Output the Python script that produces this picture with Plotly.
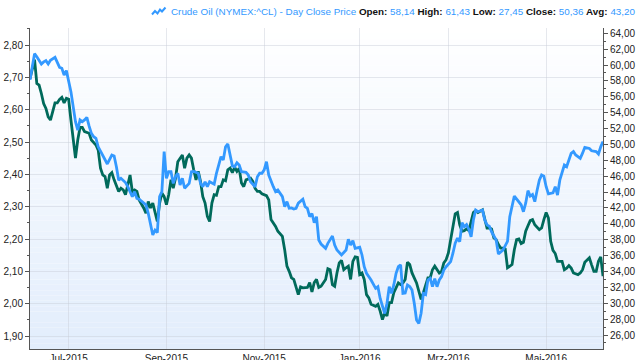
import plotly.graph_objects as go
import pandas as pd

# ---------------- data ----------------
holidays = ["2015-07-03", "2015-09-07", "2015-11-26", "2015-12-25", "2016-01-01",
            "2016-01-18", "2016-02-15", "2016-03-25", "2016-05-30"]

crude_dates = [
    "2015-06-08", "2015-06-10", "2015-06-11", "2015-06-15", "2015-06-16", "2015-06-17", "2015-06-18",
    "2015-06-19", "2015-06-23", "2015-06-24", "2015-06-25", "2015-06-26", "2015-06-29", "2015-06-30",
    "2015-07-01", "2015-07-02", "2015-07-07", "2015-07-08", "2015-07-09", "2015-07-10", "2015-07-13",
    "2015-07-14", "2015-07-15", "2015-07-16", "2015-07-17", "2015-07-20", "2015-07-21", "2015-07-23",
    "2015-07-27", "2015-07-29", "2015-07-30", "2015-07-31", "2015-08-03", "2015-08-04", "2015-08-06",
    "2015-08-07", "2015-08-11", "2015-08-12", "2015-08-13", "2015-08-14", "2015-08-18", "2015-08-19",
    "2015-08-20", "2015-08-24", "2015-08-25", "2015-08-26", "2015-08-27", "2015-08-28", "2015-08-31",
    "2015-09-01", "2015-09-02", "2015-09-03", "2015-09-04", "2015-09-08", "2015-09-09", "2015-09-10",
    "2015-09-11", "2015-09-14", "2015-09-16", "2015-09-17", "2015-09-18", "2015-09-22", "2015-09-23",
    "2015-09-24", "2015-09-25", "2015-09-28", "2015-09-29", "2015-10-01", "2015-10-02", "2015-10-05",
    "2015-10-06", "2015-10-07", "2015-10-08", "2015-10-09", "2015-10-12", "2015-10-13", "2015-10-14",
    "2015-10-15", "2015-10-16", "2015-10-19", "2015-10-21", "2015-10-22", "2015-10-23", "2015-10-27",
    "2015-10-28", "2015-10-29", "2015-10-30", "2015-11-02", "2015-11-03", "2015-11-04", "2015-11-06",
    "2015-11-09", "2015-11-10", "2015-11-12", "2015-11-13", "2015-11-16", "2015-11-17", "2015-11-18",
    "2015-11-19", "2015-11-20", "2015-11-23", "2015-11-25", "2015-11-27", "2015-11-30", "2015-12-01",
    "2015-12-02", "2015-12-03", "2015-12-04", "2015-12-07", "2015-12-08", "2015-12-10", "2015-12-11",
    "2015-12-15", "2015-12-16", "2015-12-17", "2015-12-21", "2015-12-23", "2015-12-24", "2015-12-28",
    "2015-12-29", "2015-12-30", "2016-01-04", "2016-01-05", "2016-01-06", "2016-01-07", "2016-01-08",
    "2016-01-11", "2016-01-13", "2016-01-14", "2016-01-15", "2016-01-19", "2016-01-20", "2016-01-21",
    "2016-01-22", "2016-01-25", "2016-01-26", "2016-01-27", "2016-01-28", "2016-01-29", "2016-02-01",
    "2016-02-02", "2016-02-03", "2016-02-04", "2016-02-05", "2016-02-08", "2016-02-09", "2016-02-10",
    "2016-02-11", "2016-02-12", "2016-02-16", "2016-02-17", "2016-02-18", "2016-02-19", "2016-02-22",
    "2016-02-23", "2016-02-24", "2016-02-25", "2016-02-26", "2016-02-29", "2016-03-02", "2016-03-03",
    "2016-03-04", "2016-03-07", "2016-03-08", "2016-03-09", "2016-03-10", "2016-03-11", "2016-03-14",
    "2016-03-15", "2016-03-16", "2016-03-17", "2016-03-18", "2016-03-22", "2016-03-23", "2016-03-24",
    "2016-03-28", "2016-03-29", "2016-03-30", "2016-03-31", "2016-04-01", "2016-04-05", "2016-04-07",
    "2016-04-08", "2016-04-12", "2016-04-13", "2016-04-15", "2016-04-18", "2016-04-19", "2016-04-20",
    "2016-04-21", "2016-04-22", "2016-04-25", "2016-04-26", "2016-04-27", "2016-04-28", "2016-04-29",
    "2016-05-02", "2016-05-03", "2016-05-05", "2016-05-06", "2016-05-09", "2016-05-10", "2016-05-12",
    "2016-05-13", "2016-05-17", "2016-05-18", "2016-05-19", "2016-05-23", "2016-05-24", "2016-05-25",
    "2016-05-27", "2016-05-31", "2016-06-02", "2016-06-03", "2016-06-06", "2016-06-07",
]
crude_close = [
    58.14, 61.43, 61.05, 60.13, 60.40, 60.55, 60.13,
    60.60, 60.97, 60.20, 59.70, 59.60, 58.75, 59.30,
    57.90, 56.65, 52.87, 51.80, 53.08, 52.87, 53.08,
    53.40, 52.30, 51.40, 50.98, 50.78, 49.70, 48.55,
    47.54, 48.67, 48.55, 47.20, 45.50, 45.74, 45.20,
    44.68, 43.42, 44.05, 43.20, 43.10, 42.60, 42.40,
    41.33, 38.60, 39.20, 38.90, 43.42, 44.05, 49.10,
    45.74, 46.57, 46.57, 45.10, 45.94, 46.37, 44.90,
    45.74, 44.48, 45.10, 46.57, 46.60, 46.37, 45.10,
    44.68, 45.30, 44.68, 45.30, 45.00, 46.37, 47.40,
    48.46, 48.04, 49.70, 50.06, 48.46, 47.30, 47.20,
    47.70, 47.40, 46.57, 46.50, 46.15, 45.30, 44.68,
    45.94, 46.37, 46.37, 46.80, 47.83, 46.15, 44.68,
    44.05, 44.26, 43.42, 42.16, 42.79, 41.96, 42.00,
    41.87, 41.96, 42.60, 43.10, 42.16, 41.96, 40.90,
    41.30, 40.15, 40.90, 37.97, 37.46, 36.92, 37.55,
    38.47, 37.33, 36.70, 36.08, 36.70, 38.06, 37.33,
    37.88, 36.92, 37.05, 36.08, 34.60, 33.77, 33.35,
    32.93, 31.88, 32.08, 30.60, 29.56, 28.70, 30.00,
    32.08, 31.25, 32.30, 33.77, 34.60, 34.82, 31.25,
    31.30, 32.30, 32.10, 31.67, 30.00, 27.90, 27.45,
    28.74, 31.25, 31.10, 32.93, 33.14, 32.08, 33.10,
    32.08, 32.93, 33.35, 34.19, 34.60, 35.24, 36.30,
    37.55, 38.20, 37.76, 40.15, 39.64, 39.90, 39.30,
    38.38, 40.48, 41.74, 41.53, 41.74, 40.48, 39.86,
    39.70, 39.00, 38.38, 37.97, 36.20, 36.70, 37.80,
    40.90, 43.50, 43.10, 42.40, 41.53, 42.60, 44.18,
    43.50, 43.70, 42.79, 44.20, 45.50, 46.15, 46.00,
    44.68, 43.77, 43.90, 44.68, 43.63, 45.50, 47.40,
    47.20, 48.88, 49.10, 48.67, 48.26, 48.90, 49.64,
    49.50, 49.20, 49.10, 48.80, 49.70, 50.36,
]

comp_dates = [
    "2015-06-08", "2015-06-10", "2015-06-11", "2015-06-12", "2015-06-15", "2015-06-16", "2015-06-17",
    "2015-06-18", "2015-06-19", "2015-06-22", "2015-06-23", "2015-06-24", "2015-06-25", "2015-06-26",
    "2015-06-29", "2015-06-30", "2015-07-01", "2015-07-02", "2015-07-06", "2015-07-07", "2015-07-08",
    "2015-07-09", "2015-07-10", "2015-07-13", "2015-07-15", "2015-07-16", "2015-07-20", "2015-07-21",
    "2015-07-22", "2015-07-23", "2015-07-24", "2015-07-27", "2015-07-28", "2015-07-29", "2015-07-30",
    "2015-07-31", "2015-08-03", "2015-08-04", "2015-08-05", "2015-08-06", "2015-08-10", "2015-08-11",
    "2015-08-12", "2015-08-13", "2015-08-14", "2015-08-18", "2015-08-19", "2015-08-20", "2015-08-21",
    "2015-08-24", "2015-08-25", "2015-08-26", "2015-08-27", "2015-08-28", "2015-08-31", "2015-09-01",
    "2015-09-02", "2015-09-03", "2015-09-04", "2015-09-08", "2015-09-09", "2015-09-10", "2015-09-11",
    "2015-09-14", "2015-09-15", "2015-09-16", "2015-09-17", "2015-09-18", "2015-09-21", "2015-09-22",
    "2015-09-23", "2015-09-24", "2015-09-25", "2015-09-28", "2015-09-29", "2015-09-30", "2015-10-01",
    "2015-10-02", "2015-10-05", "2015-10-06", "2015-10-07", "2015-10-08", "2015-10-09", "2015-10-12",
    "2015-10-13", "2015-10-14", "2015-10-15", "2015-10-16", "2015-10-19", "2015-10-20", "2015-10-21",
    "2015-10-23", "2015-10-26", "2015-10-27", "2015-10-28", "2015-10-29", "2015-10-30", "2015-11-03",
    "2015-11-04", "2015-11-05", "2015-11-09", "2015-11-10", "2015-11-12", "2015-11-13", "2015-11-16",
    "2015-11-17", "2015-11-18", "2015-11-19", "2015-11-20", "2015-11-23", "2015-11-24", "2015-11-25",
    "2015-11-30", "2015-12-01", "2015-12-02", "2015-12-03", "2015-12-04", "2015-12-07", "2015-12-08",
    "2015-12-10", "2015-12-11", "2015-12-14", "2015-12-15", "2015-12-16", "2015-12-17", "2015-12-18",
    "2015-12-21", "2015-12-22", "2015-12-23", "2015-12-24", "2015-12-28", "2015-12-29", "2015-12-30",
    "2015-12-31", "2016-01-04", "2016-01-05", "2016-01-06", "2016-01-07", "2016-01-08", "2016-01-11",
    "2016-01-13", "2016-01-14", "2016-01-15", "2016-01-19", "2016-01-20", "2016-01-21", "2016-01-22",
    "2016-01-25", "2016-01-26", "2016-01-27", "2016-01-28", "2016-01-29", "2016-02-01", "2016-02-02",
    "2016-02-03", "2016-02-04", "2016-02-05", "2016-02-09", "2016-02-10", "2016-02-11", "2016-02-12",
    "2016-02-16", "2016-02-17", "2016-02-18", "2016-02-19", "2016-02-22", "2016-02-23", "2016-02-24",
    "2016-02-25", "2016-02-26", "2016-02-29", "2016-03-01", "2016-03-02", "2016-03-03", "2016-03-04",
    "2016-03-07", "2016-03-08", "2016-03-09", "2016-03-10", "2016-03-11", "2016-03-14", "2016-03-15",
    "2016-03-16", "2016-03-17", "2016-03-18", "2016-03-22", "2016-03-23", "2016-03-24", "2016-03-28",
    "2016-03-29", "2016-03-30", "2016-03-31", "2016-04-01", "2016-04-04", "2016-04-05", "2016-04-06",
    "2016-04-07", "2016-04-08", "2016-04-11", "2016-04-12", "2016-04-13", "2016-04-14", "2016-04-15",
    "2016-04-18", "2016-04-19", "2016-04-20", "2016-04-21", "2016-04-22", "2016-04-25", "2016-04-27",
    "2016-04-28", "2016-04-29", "2016-05-02", "2016-05-03", "2016-05-04", "2016-05-05", "2016-05-06",
    "2016-05-09", "2016-05-10", "2016-05-11", "2016-05-12", "2016-05-13", "2016-05-16", "2016-05-17",
    "2016-05-18", "2016-05-20", "2016-05-23", "2016-05-24", "2016-05-25", "2016-05-26", "2016-05-27",
    "2016-05-31", "2016-06-01", "2016-06-02", "2016-06-03", "2016-06-06", "2016-06-07",
]
comp_values = [
    2.696, 2.755, 2.681, 2.676, 2.650, 2.619, 2.604,
    2.578, 2.568, 2.593, 2.621, 2.621, 2.632, 2.638,
    2.621, 2.635, 2.632, 2.568, 2.506, 2.450, 2.506,
    2.545, 2.545, 2.532, 2.527, 2.506, 2.491, 2.475,
    2.419, 2.398, 2.393, 2.357, 2.398, 2.405, 2.383,
    2.362, 2.347, 2.357, 2.352, 2.337, 2.398, 2.347,
    2.352, 2.347, 2.321, 2.296, 2.280, 2.316, 2.296,
    2.311, 2.280, 2.254, 2.311, 2.342, 2.331, 2.306,
    2.337, 2.383, 2.357, 2.388, 2.439, 2.450, 2.460,
    2.419, 2.450, 2.460, 2.450, 2.414, 2.383, 2.409,
    2.378, 2.331, 2.311, 2.270, 2.254, 2.311, 2.337,
    2.335, 2.362, 2.362, 2.383, 2.380, 2.414, 2.419,
    2.405, 2.422, 2.409, 2.419, 2.373, 2.362, 2.383,
    2.388, 2.378, 2.357, 2.347, 2.347, 2.340, 2.334,
    2.321, 2.260, 2.239, 2.224, 2.208, 2.167, 2.116,
    2.100, 2.080, 2.075, 2.054, 2.028, 2.052, 2.049,
    2.050, 2.065, 2.036, 2.065, 2.075, 2.050, 2.054,
    2.075, 2.108, 2.105, 2.059, 2.054, 2.095, 2.126,
    2.134, 2.105, 2.111, 2.116, 2.075, 2.131, 2.145,
    2.143, 2.090, 2.095, 2.075, 2.028, 2.018, 1.998,
    1.992, 1.998, 1.977, 1.951, 1.972, 1.962, 2.003,
    2.003, 2.034, 2.049, 2.064, 2.059, 2.064, 2.075,
    2.128, 2.121, 2.095, 2.064, 2.039, 2.013, 2.034,
    2.059, 2.080, 2.080, 2.105, 2.116, 2.105, 2.095,
    2.100, 2.126, 2.136, 2.157, 2.198, 2.239, 2.278,
    2.282, 2.244, 2.224, 2.226, 2.231, 2.226, 2.254,
    2.282, 2.288, 2.282, 2.290, 2.265, 2.234, 2.234,
    2.231, 2.203, 2.198, 2.183, 2.172, 2.172, 2.169,
    2.111, 2.116, 2.121, 2.167, 2.198, 2.200, 2.186,
    2.190, 2.224, 2.241, 2.257, 2.260, 2.244, 2.229,
    2.234, 2.260, 2.282, 2.265, 2.193, 2.165, 2.155,
    2.131, 2.130, 2.131, 2.105, 2.110, 2.118, 2.110,
    2.095, 2.090, 2.095, 2.105, 2.128, 2.134, 2.142,
    2.120, 2.100, 2.100, 2.131, 2.145, 2.085,
]

tick_months = ["2015-07", "2015-09", "2015-11", "2016-01", "2016-03", "2016-05"]
tick_labels = ["Jul-2015", "Sep-2015", "Nov-2015", "Jan-2016", "Mrz-2016", "Mai-2016"]

header_title = "Crude Oil (NYMEX:^CL) - Day Close Price"
header_stats = [("Open", 58.14), ("High", 61.43), ("Low", 27.45), ("Close", 50.36), ("Avg", 43.20)]

# ---------------- trading calendar (x scale in trading days) ----------------
cal = pd.bdate_range("2015-06-08", "2016-06-07")
cal = cal[~cal.isin(pd.to_datetime(holidays))]


def to_idx(dates):
    return cal.searchsorted(pd.to_datetime(dates))


tick_idx = [int(cal.searchsorted(pd.Timestamp(m + "-01"))) for m in tick_months]

BLUE = "#3399ff"
GREEN = "#006a5b"
FONT = "Liberation Sans"

fig = go.Figure()
fig.add_trace(go.Scatter(x=to_idx(crude_dates), y=crude_close, yaxis="y2", mode="lines",
                         line=dict(color=BLUE, width=2.8), showlegend=False, hoverinfo="skip"))
fig.add_trace(go.Scatter(x=to_idx(comp_dates), y=comp_values, yaxis="y", mode="lines",
                         line=dict(color=GREEN, width=2.8), showlegend=False, hoverinfo="skip"))

# background gradient (white -> light blue)
shapes = []
n = 60
top = (255, 255, 255)
bot = (226, 237, 252)
for i in range(n):
    f = (i + 0.5) / n
    c = tuple(round(top[k] + (bot[k] - top[k]) * f) for k in range(3))
    shapes.append(dict(type="rect", xref="paper", yref="paper", x0=0, x1=1,
                       y0=1 - (i + 1) / n, y1=1 - i / n, layer="below",
                       fillcolor="rgb(%d,%d,%d)" % c, line=dict(width=0)))

# small chart icon in the header (decoration)
L, T = 30, 28
PW, PH = 573, 321


def px(x, y):
    return (x - L) / PW, (T + PH - y) / PH


pts = [(152, 14.5), (155, 11), (157.5, 13.5), (160, 9.5), (162, 11.5), (165.5, 7.5)]
path = "M " + " L ".join("%f,%f" % px(x, y) for x, y in pts)
shapes.append(dict(type="path", xref="paper", yref="paper", path=path,
                   line=dict(color=BLUE, width=2)))


def fmt(v):
    return ("%.2f" % v).replace(".", ",")


header = "<span style='color:%s'>%s</span>" % (BLUE, header_title)
for k, v in header_stats:
    header += " <b>%s:</b> <span style='color:%s'>%s</span>" % (k, BLUE, fmt(v))

fig.update_layout(
    width=640, height=360,
    margin=dict(l=30, r=37, t=28, b=11),
    paper_bgcolor="white", plot_bgcolor="white",
    separators=",.",
    font=dict(family=FONT, size=10, color="#222"),
    shapes=shapes,
    annotations=[dict(text=header, xref="paper", yref="paper",
                      x=(638 - L) / PW, y=(T + PH - 11.5) / PH,
                      xanchor="right", yanchor="middle", showarrow=False,
                      font=dict(family=FONT, size=9.85, color="#111"))],
    xaxis=dict(range=[0, len(cal) - 1], tickvals=tick_idx, ticktext=tick_labels,
               showgrid=True, gridcolor="rgba(200,205,215,0.45)", gridwidth=1,
               showline=True, linecolor="#555", linewidth=1,
               ticks="", ticklabelstandoff=0,
               zeroline=False, automargin=False, tickfont=dict(size=10)),
    yaxis=dict(range=[1.8598, 2.8526], dtick=0.1, tick0=2.0, tickformat=".2f",
               side="left", showgrid=True, gridcolor="rgba(200,205,215,0.45)",
               showline=True, linecolor="#555", linewidth=1,
               ticks="outside", ticklen=4, tickcolor="#555",
               minor=dict(dtick=0.05, ticks="outside", ticklen=2, tickcolor="#555", showgrid=False),
               zeroline=False, automargin=False),
    yaxis2=dict(range=[24.237, 64.667], dtick=2, tick0=0, tickformat=".2f",
                side="right", overlaying="y", showgrid=False,
                showline=True, linecolor="#555", linewidth=1,
                ticks="outside", ticklen=4, tickcolor="#555",
                minor=dict(dtick=1, ticks="outside", ticklen=2, tickcolor="#555", showgrid=False),
                zeroline=False, automargin=False),
)

fig.write_html("out.html")
